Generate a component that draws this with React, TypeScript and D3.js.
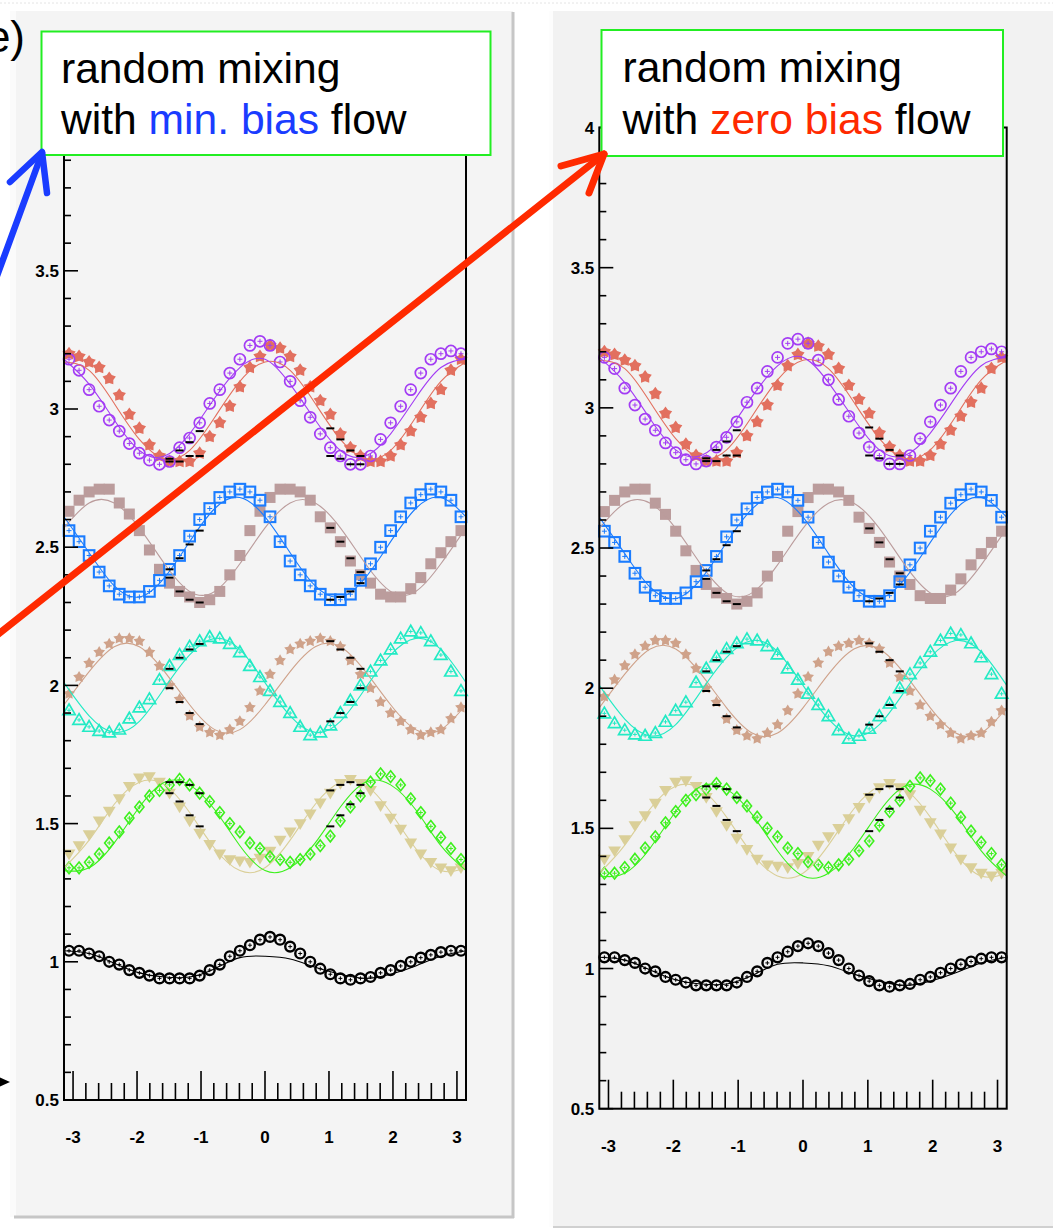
import React from "react";
import * as d3 from "d3";

// Binning in the azimuthal difference: 40 bins over [-pi, pi]
const N_BINS = 40;
const PHI = d3.range(N_BINS).map((i) => -Math.PI + ((i + 0.5) * 2 * Math.PI) / N_BINS);
// Fit curves are sampled every pi/8
const FIT_PHI = d3.range(17).map((i) => -Math.PI + (i * Math.PI) / 8);
// Bins that carry the black reference points
const DASH_BINS = [10, 11, 12, 13, 26, 27, 28, 29];

const X_TICKS = [-3, -2, -1, 0, 1, 2, 3];
const X_LABELS = ["-3", "-2", "-1", "0", "1", "2", "3"];
const Y_TICKS = [0.5, 1, 1.5, 2, 2.5, 3, 3.5, 4];
const Y_LABELS = ["0.5", "1", "1.5", "2", "2.5", "3", "3.5", "4"];

// ---- group around 3.0
const violetCircles = [3.18, 3.14, 3.07, 3.01, 2.96, 2.92, 2.875, 2.84, 2.815, 2.8, 2.81, 2.86, 2.895, 2.95, 3.02, 3.07, 3.13, 3.18, 3.23, 3.245, 3.23, 3.17, 3.1, 3.03, 2.97, 2.91, 2.86, 2.83, 2.8, 2.8, 2.83, 2.89, 2.95, 3.01, 3.07, 3.13, 3.18, 3.2, 3.21, 3.2];
const violetFit = [3.18, 3.09, 2.96, 2.85, 2.83, 2.91, 3.04, 3.15, 3.18, 3.09, 2.96, 2.85, 2.83, 2.91, 3.04, 3.15, 3.18];
const salmonStars = [3.2, 3.19, 3.17, 3.15, 3.11, 3.05, 2.98, 2.93, 2.87, 2.83, 2.81, 2.81, 2.81, 2.84, 2.9, 2.95, 3.01, 3.08, 3.15, 3.19, 3.23, 3.22, 3.19, 3.14, 3.08, 3.03, 2.98, 2.91, 2.86, 2.83, 2.81, 2.81, 2.83, 2.87, 2.92, 2.97, 3.02, 3.07, 3.14, 3.18];
const salmonFit = [3.17, 3.14, 3.02, 2.89, 2.82, 2.85, 2.97, 3.1, 3.17, 3.14, 3.02, 2.89, 2.82, 2.85, 2.97, 3.1, 3.17];
const refViolet = [2.82, 2.85, 2.88, 2.92, 2.83, 2.82, 2.8, 2.8];
const refSalmon = [2.81, 2.81, 2.83, 2.83, 2.93, 2.89, 2.85, 2.83];

// ---- group around 2.5
const blueSquares = [2.56, 2.52, 2.47, 2.41, 2.36, 2.33, 2.32, 2.32, 2.34, 2.38, 2.42, 2.47, 2.54, 2.6, 2.64, 2.68, 2.7, 2.71, 2.7, 2.67, 2.61, 2.52, 2.45, 2.4, 2.36, 2.33, 2.31, 2.31, 2.33, 2.38, 2.44, 2.5, 2.56, 2.61, 2.66, 2.69, 2.71, 2.7, 2.67, 2.61];
const blueFit = [2.61, 2.48, 2.36, 2.32, 2.39, 2.52, 2.64, 2.68, 2.61, 2.48, 2.36, 2.32, 2.39, 2.52, 2.64, 2.68, 2.61];
const rosySquares = [2.63, 2.67, 2.7, 2.71, 2.71, 2.66, 2.62, 2.56, 2.49, 2.42, 2.37, 2.34, 2.32, 2.3, 2.31, 2.34, 2.4, 2.47, 2.56, 2.63, 2.68, 2.71, 2.71, 2.7, 2.67, 2.61, 2.57, 2.52, 2.45, 2.4, 2.37, 2.33, 2.32, 2.32, 2.35, 2.39, 2.44, 2.48, 2.52, 2.56];
const rosyFit = [2.57, 2.66, 2.66, 2.57, 2.44, 2.34, 2.34, 2.44, 2.57, 2.66, 2.66, 2.57, 2.44, 2.34, 2.34, 2.44, 2.57];
const refBlue = [2.42, 2.46, 2.51, 2.56, 2.31, 2.32, 2.34, 2.37];
const refRosy = [2.39, 2.34, 2.31, 2.3, 2.57, 2.52, 2.46, 2.41];

// ---- group around 2.0
const cyanTriangles = [1.91, 1.875, 1.85, 1.835, 1.83, 1.84, 1.88, 1.92, 1.95, 2.02, 2.07, 2.11, 2.14, 2.16, 2.175, 2.17, 2.15, 2.12, 2.07, 2.03, 1.98, 1.94, 1.9, 1.85, 1.82, 1.83, 1.855, 1.9, 1.945, 2.0, 2.05, 2.09, 2.13, 2.17, 2.195, 2.19, 2.16, 2.11, 2.05, 1.98];
const cyanFit = [2.01, 1.89, 1.83, 1.87, 1.99, 2.11, 2.17, 2.13, 2.01, 1.89, 1.83, 1.87, 1.99, 2.11, 2.17, 2.13, 2.01];
const tanStars = [1.97, 2.03, 2.08, 2.12, 2.15, 2.17, 2.17, 2.16, 2.12, 2.07, 2.0, 1.95, 1.89, 1.85, 1.83, 1.82, 1.84, 1.87, 1.92, 1.98, 2.04, 2.09, 2.13, 2.15, 2.16, 2.17, 2.16, 2.14, 2.09, 2.04, 1.99, 1.94, 1.9, 1.87, 1.84, 1.82, 1.83, 1.84, 1.88, 1.92];
const tanFit = [1.93, 2.05, 2.14, 2.14, 2.05, 1.93, 1.84, 1.84, 1.93, 2.05, 2.14, 2.14, 2.05, 1.93, 1.84, 1.84, 1.93];
const refCyan = [2.06, 2.1, 2.13, 2.15, 1.87, 1.9, 1.94, 1.99];
const refTan = [1.99, 1.94, 1.9, 1.86, 2.16, 2.13, 2.1, 2.06];

// ---- group around 1.5
const greenDiamonds = [1.34, 1.34, 1.36, 1.39, 1.43, 1.47, 1.52, 1.56, 1.6, 1.62, 1.64, 1.66, 1.64, 1.61, 1.58, 1.54, 1.5, 1.47, 1.43, 1.41, 1.38, 1.37, 1.36, 1.37, 1.39, 1.42, 1.455, 1.51, 1.56, 1.6, 1.65, 1.68, 1.67, 1.64, 1.59, 1.54, 1.49, 1.45, 1.41, 1.37];
const greenFit = [1.33, 1.34, 1.43, 1.56, 1.65, 1.64, 1.55, 1.42, 1.33, 1.34, 1.43, 1.56, 1.65, 1.64, 1.55, 1.42, 1.33];
const khakiTriangles = [1.39, 1.42, 1.46, 1.51, 1.545, 1.59, 1.635, 1.665, 1.67, 1.65, 1.61, 1.56, 1.51, 1.465, 1.425, 1.39, 1.37, 1.365, 1.36, 1.375, 1.4, 1.44, 1.47, 1.5, 1.535, 1.575, 1.61, 1.645, 1.66, 1.645, 1.62, 1.565, 1.52, 1.48, 1.43, 1.39, 1.36, 1.34, 1.33, 1.34];
const khakiFit = [1.34, 1.44, 1.57, 1.65, 1.64, 1.54, 1.41, 1.33, 1.34, 1.44, 1.57, 1.65, 1.64, 1.54, 1.41, 1.33, 1.34];
const refGreen = [1.65, 1.65, 1.64, 1.61, 1.49, 1.53, 1.57, 1.61];
const refKhaki = [1.61, 1.58, 1.53, 1.49, 1.62, 1.64, 1.65, 1.64];

// ---- group around 1.0
const blackCircles = [1.04, 1.04, 1.03, 1.02, 1.0, 0.99, 0.97, 0.96, 0.95, 0.94, 0.94, 0.94, 0.94, 0.95, 0.97, 0.99, 1.02, 1.04, 1.06, 1.08, 1.09, 1.08, 1.055, 1.03, 1.0, 0.975, 0.955, 0.94, 0.935, 0.94, 0.945, 0.96, 0.97, 0.985, 1.0, 1.015, 1.025, 1.035, 1.04, 1.04];
const blackFit = [1.04, 1.03, 0.995, 0.96, 0.945, 0.945, 0.975, 1.015, 1.02, 1.01, 0.98, 0.955, 0.94, 0.955, 0.985, 1.02, 1.04];

const VIOLET = "#a33cf4";
const SALMON = "#e2705f";
const BLUE = "#1a7cff";
const ROSY = "#bb9c9c";
const CYAN = "#22eac4";
const TAN = "#cfa28a";
const KHAKI = "#dacf98";
const GREEN = "#3cf01c";
const BLACK = "#000000";

type Kind = "ring" | "star" | "smallStar" | "square" | "openSquare" | "openTriangle" | "downTriangle" | "openDiamond" | "blackRing";
type Series = { values: number[]; fit: number[]; color: string; kind: Kind };
type Group = { series: Series[]; refs: number[][] };

// Each group: lower layer first, upper layer last
const GROUPS: Group[] = [
  {
    series: [
      { values: salmonStars, fit: salmonFit, color: SALMON, kind: "star" },
      { values: violetCircles, fit: violetFit, color: VIOLET, kind: "ring" },
    ],
    refs: [refSalmon, refViolet],
  },
  {
    series: [
      { values: rosySquares, fit: rosyFit, color: ROSY, kind: "square" },
      { values: blueSquares, fit: blueFit, color: BLUE, kind: "openSquare" },
    ],
    refs: [refRosy, refBlue],
  },
  {
    series: [
      { values: tanStars, fit: tanFit, color: TAN, kind: "smallStar" },
      { values: cyanTriangles, fit: cyanFit, color: CYAN, kind: "openTriangle" },
    ],
    refs: [refTan, refCyan],
  },
  {
    series: [
      { values: khakiTriangles, fit: khakiFit, color: KHAKI, kind: "downTriangle" },
      { values: greenDiamonds, fit: greenFit, color: GREEN, kind: "openDiamond" },
    ],
    refs: [refKhaki, refGreen],
  },
  {
    series: [{ values: blackCircles, fit: blackFit, color: BLACK, kind: "blackRing" }],
    refs: [],
  },
];

// five-pointed star outline with the given outer / inner radii
function starPath(outer: number, inner: number): string {
  const pts = d3.range(10).map((k) => {
    const r = k % 2 === 0 ? outer : inner;
    const a = (k * Math.PI) / 5 - Math.PI / 2;
    return [r * Math.cos(a), r * Math.sin(a)] as [number, number];
  });
  return (d3.line()(pts) as string) + "Z";
}

const STAR = starPath(7, 4.3);
const SMALL_STAR = starPath(6.2, 3.4);
const TRIANGLE_UP = "M0,-6.3L6.2,4.4L-6.2,4.4Z";
const TRIANGLE_DOWN = "M0,6.3L6.4,-4.4L-6.4,-4.4Z";
const DIAMOND = "M0,-5.8L4.6,0L0,5.8L-4.6,0Z";

function Marker({ kind, cx, cy, color }: { kind: Kind; cx: number; cy: number; color: string }) {
  const t = `translate(${cx},${cy})`;
  const cross = (h: number) => (
    <g stroke={color} strokeWidth={1}>
      <line x1={cx} x2={cx} y1={cy - h} y2={cy + h} />
      <line x1={cx - h} x2={cx + h} y1={cy} y2={cy} />
    </g>
  );
  switch (kind) {
    case "ring":
      return (
        <g>
          <circle cx={cx} cy={cy} r={5.5} fill="none" stroke={color} strokeWidth={1.7} />
          {cross(2.5)}
        </g>
      );
    case "blackRing":
      return (
        <g>
          <circle cx={cx} cy={cy} r={4.9} fill="none" stroke={color} strokeWidth={2.4} />
          {cross(2)}
        </g>
      );
    case "star":
      return <path d={STAR} transform={t} fill={color} />;
    case "smallStar":
      return <path d={SMALL_STAR} transform={t} fill={color} />;
    case "square":
      return <rect x={cx - 5.5} y={cy - 5.5} width={11} height={11} fill={color} />;
    case "openSquare":
      return (
        <g>
          <rect x={cx - 5.3} y={cy - 5.3} width={10.6} height={10.6} fill="none" stroke={color} strokeWidth={2.1} />
          {cross(2.5)}
        </g>
      );
    case "openTriangle":
      return (
        <g>
          <path d={TRIANGLE_UP} transform={t} fill="none" stroke={color} strokeWidth={1.7} />
          {cross(2)}
        </g>
      );
    case "downTriangle":
      return <path d={TRIANGLE_DOWN} transform={t} fill={color} />;
    case "openDiamond":
      return (
        <g>
          <path d={DIAMOND} transform={t} fill="none" stroke={color} strokeWidth={1.6} />
          {cross(2.2)}
        </g>
      );
  }
  return null;
}

function Panel({ xr, yr }: { xr: [number, number]; yr: [number, number] }) {
  const x = d3.scaleLinear().domain([-Math.PI, Math.PI]).range(xr);
  const y = d3.scaleLinear().domain([0.5, 4]).range(yr);
  const fitLine = d3
    .line<number>()
    .x((_, i) => x(FIT_PHI[i]))
    .y((d) => y(d))
    .curve(d3.curveNatural);

  const yMinor = d3.range(5, 41).map((k) => ({ v: k / 10, major: k % 5 === 0 }));
  const xMinor = d3.range(-15, 16).map((k) => ({ v: k / 5, major: k % 5 === 0 }));
  const x0 = xr[0];
  const yBase = yr[0];

  return (
    <g>
      {GROUPS.map((g, gi) => (
        <g key={gi}>
          {g.series.map((s, si) => (
            <g key={si}>
              {s.values.map((v, i) => (
                <Marker key={i} kind={s.kind} cx={x(PHI[i])} cy={y(v)} color={s.color} />
              ))}
            </g>
          ))}
          {g.series.map((s, si) => (
            <path key={"f" + si} d={fitLine(s.fit) as string} fill="none" stroke={s.color} strokeWidth={1.1} />
          ))}
          {g.refs.map((r, ri) => (
            <g key={"r" + ri} stroke="#000" strokeWidth={2}>
              {r.map((v, k) => {
                const cx = x(PHI[DASH_BINS[k]]);
                return <line key={k} x1={cx - 4} x2={cx + 4} y1={y(v)} y2={y(v)} />;
              })}
            </g>
          ))}
        </g>
      ))}

      {/* frame */}
      <rect x={xr[0]} y={yr[1]} width={xr[1] - xr[0]} height={yr[0] - yr[1]} fill="none" stroke="#000" strokeWidth={2} />

      {/* y ticks */}
      <g stroke="#000" strokeWidth={1.6}>
        {yMinor.map((t, i) => (
          <line key={i} x1={x0} x2={x0 + (t.major ? 14 : 7)} y1={y(t.v)} y2={y(t.v)} />
        ))}
      </g>
      {/* x ticks */}
      <g stroke="#000" strokeWidth={1.6}>
        {xMinor.map((t, i) => (
          <line key={i} x1={x(t.v)} x2={x(t.v)} y1={yBase} y2={yBase - (t.major ? 29 : 17)} />
        ))}
      </g>

      <g fontSize={17} fontWeight="bold" fill="#000">
        {Y_TICKS.map((v, i) => (
          <text key={i} x={x0 - 5} y={y(v)} dy="0.36em" textAnchor="end">
            {Y_LABELS[i]}
          </text>
        ))}
        {X_TICKS.map((v, i) => (
          <text key={i} x={x(v)} y={yBase + 43} textAnchor="middle">
            {X_LABELS[i]}
          </text>
        ))}
      </g>
    </g>
  );
}

function LabelBox({ x, y, w, h, tx, b1, b2, word, wordColor }: { x: number; y: number; w: number; h: number; tx: number; b1: number; b2: number; word: string; wordColor: string }) {
  return (
    <g>
      <rect x={x} y={y} width={w} height={h} fill="#ffffff" stroke="#22ee22" strokeWidth={2} />
      <g fontSize={42.6} fill="#000">
        <text x={tx} y={b1}>random mixing</text>
        <text x={tx} y={b2}>
          with <tspan fill={wordColor}>{word}</tspan> flow
        </text>
      </g>
    </g>
  );
}

export default function App() {
  return (
    <svg
      width={1053}
      height={1229}
      style={{ position: "absolute", left: 0, top: 0, display: "block" }}
      fontFamily="'Liberation Sans', Arial, Helvetica, sans-serif"
    >
      <rect width={1053} height={1229} fill="#ffffff" />
      <line x1={0} x2={1053} y1={3} y2={3} stroke="#e4e4e4" strokeDasharray="2 2" />

      {/* left canvas */}
      <rect x={10} y={11} width={503} height={1206} fill="#f4f4f4" />
      <rect x={10} y={11} width={6} height={1206} fill="#fbfbfb" />
      <line x1={513} x2={513} y1={12} y2={1218} stroke="#c6c6c6" strokeWidth={3} />
      <line x1={14} x2={514} y1={1217} y2={1217} stroke="#c6c6c6" strokeWidth={3} />

      {/* right canvas */}
      <rect x={549} y={11} width={504} height={1216} fill="#f2f2f2" />
      <rect x={549} y={11} width={4} height={1216} fill="#fdfdfd" />
      <line x1={553} x2={1053} y1={1227} y2={1227} stroke="#d0d0d0" strokeWidth={2} />

      <Panel xr={[64, 466]} yr={[1100, 132.6]} />
      <Panel xr={[599.3, 1006.7]} yr={[1108.7, 127.5]} />

      <LabelBox x={41.5} y={31.5} w={449} h={123.5} tx={61} b1={83} b2={133.5} word="min. bias" wordColor="#1a3cff" />
      <LabelBox x={601.5} y={30} w={401.5} h={126} tx={622.5} b1={81.5} b2={133.5} word="zero bias" wordColor="#ff2a00" />

      {/* panel letter, partly beyond the left edge */}
      <text x={25} y={52} fontSize={44} textAnchor="end" fill="#000">
        e)
      </text>

      {/* annotation arrows */}
      <g stroke="#1a3cff" strokeWidth={6.5} strokeLinecap="round" strokeLinejoin="round" fill="none">
        <line x1={-3} y1={276} x2={42} y2={153} />
        <polyline points="10,182 42,152 47,193" />
      </g>
      <g stroke="#ff2a00" strokeWidth={7} strokeLinecap="round" strokeLinejoin="round" fill="none">
        <line x1={-4} y1={636} x2={604} y2={154} />
        <polyline points="561,166 604,154 589,193" />
      </g>
      <polygon points="-3,1076 10,1082 -3,1088" fill="#000" />
    </svg>
  );
}
